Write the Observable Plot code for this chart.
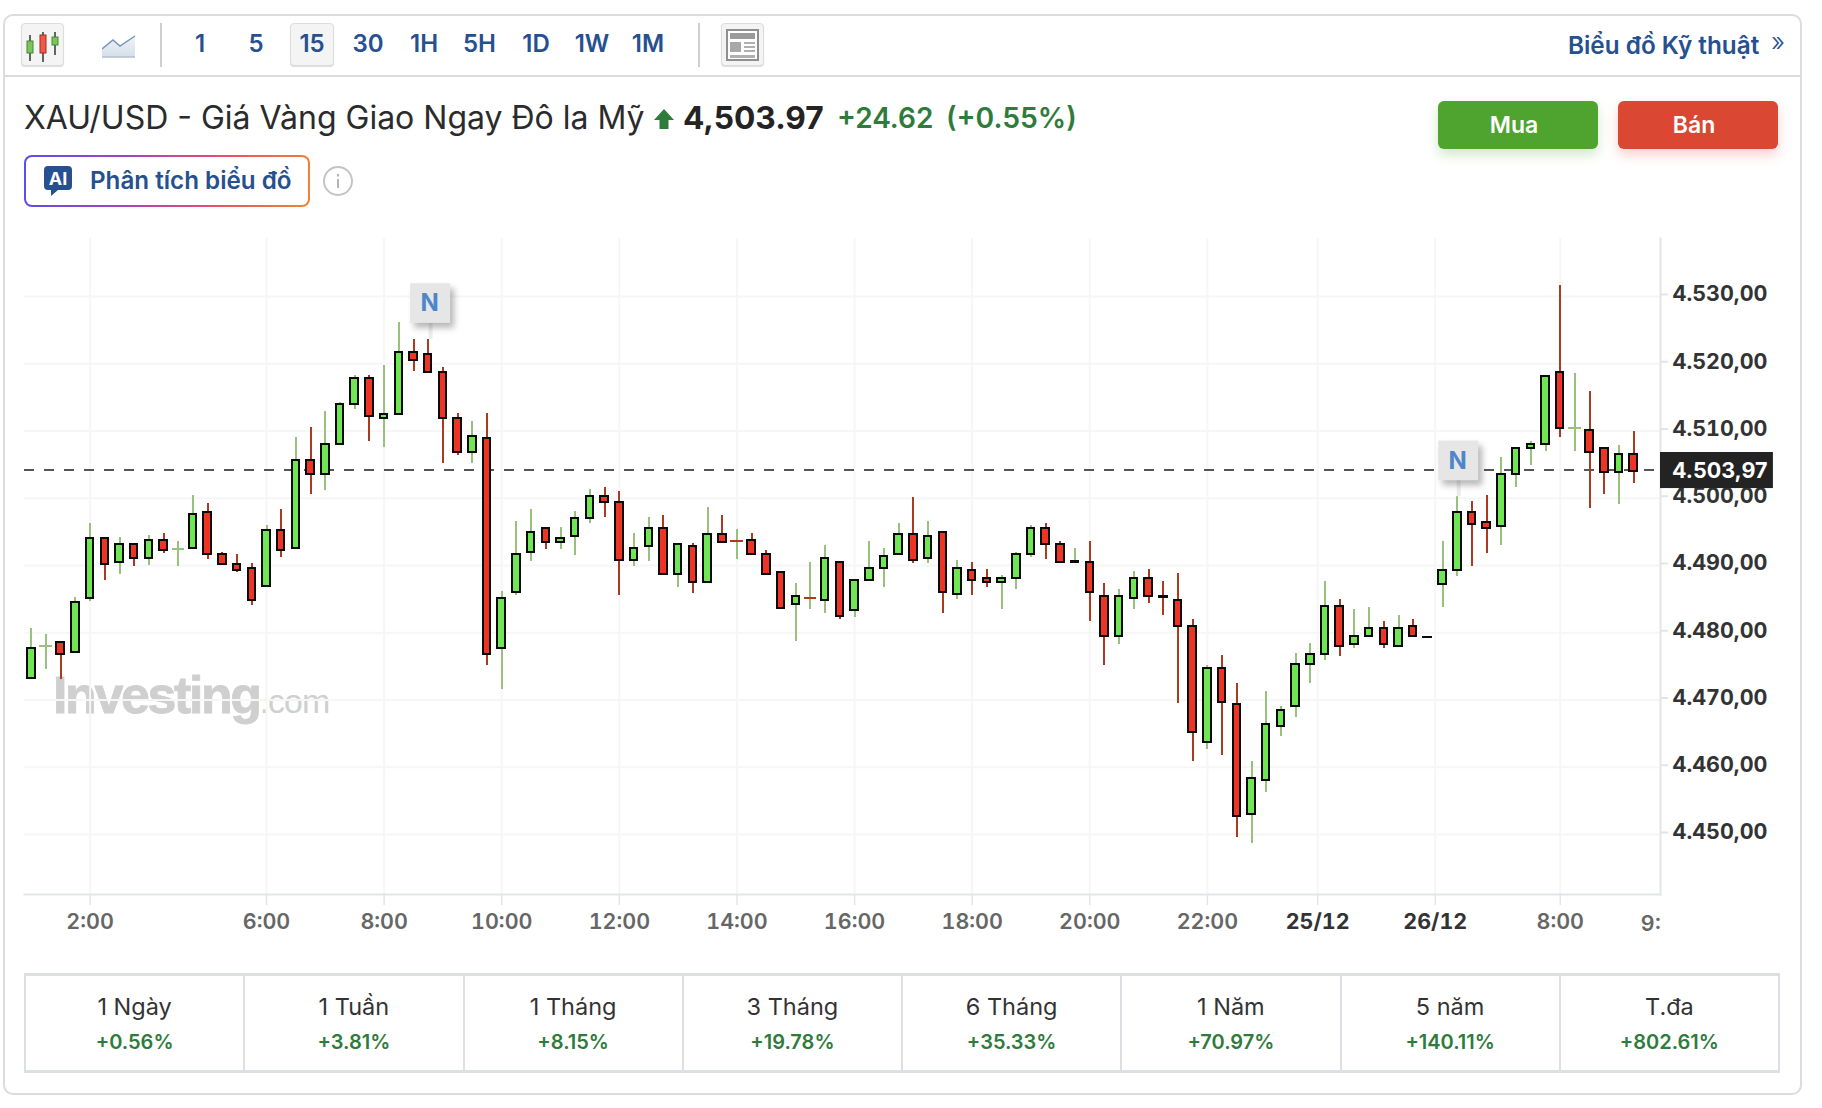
<!DOCTYPE html>
<html lang="vi">
<head>
<meta charset="utf-8">
<title>XAU/USD</title>
<script src="https://cdn.jsdelivr.net/npm/d3@7"></script>
<script src="https://cdn.jsdelivr.net/npm/@observablehq/plot@0.6"></script>
<style>
html,body{margin:0;padding:0;background:#fff;width:1822px;height:1108px;overflow:hidden;font-family:Inter,"Noto Sans",sans-serif;}
.a{position:absolute;white-space:nowrap;}
#card{left:3px;top:14px;width:1795px;height:1077px;border:2px solid #dcdcdc;border-radius:10px;}
#toolline{left:4px;top:75px;width:1797px;height:2px;background:#dcdcdc;}
.sep{width:2px;height:44px;top:23px;background:#cfcfcf;}
.btnbox{top:23px;height:43px;background:#f4f4f4;border:1px solid #dcdcdc;border-radius:4px;box-sizing:border-box;box-shadow:0 1px 1px #ddd;}
.iv{top:30px;height:28px;line-height:28px;font-size:24px;font-weight:600;color:#26508f;transform:translateX(-50%);}
#link{left:1568px;top:30px;line-height:30px;font-size:24.3px;font-weight:600;color:#26508f;}
#chev{left:1771px;top:27px;line-height:30px;font-size:26px;font-weight:300;color:#26508f;}
#title{left:24px;top:98px;line-height:40px;font-size:32px;color:#2b2b2b;}
#price{left:683px;top:98px;line-height:40px;font-size:31.7px;font-weight:700;color:#232323;}
#chg1{left:837px;top:98px;line-height:40px;font-size:28px;font-weight:600;color:#2f7b3c;}
#chg2{left:946px;top:98px;line-height:40px;font-size:28.3px;font-weight:600;color:#2f7b3c;}
.trade{top:101px;width:160px;height:48px;line-height:48px;border-radius:6px;color:#fff;text-align:center;font-size:23px;font-weight:600;box-sizing:border-box;padding-right:8px;}
#mua{left:1438px;background:#4ea42f;box-shadow:0 6px 12px rgba(78,164,47,.25);}
#ban{left:1618px;background:#da4733;box-shadow:0 6px 12px rgba(218,71,51,.25);}
#ai{left:24px;top:155px;width:286px;height:52px;box-sizing:border-box;border:2px solid transparent;border-radius:8px;
background:linear-gradient(#fff,#fff) padding-box,linear-gradient(100deg,#5a4df0 0%,#a044c0 35%,#e94a70 65%,#f08530 100%) border-box;}
#aitext{left:90px;top:166px;line-height:30px;font-size:24.2px;font-weight:600;color:#26508f;}
#wm{left:53px;top:665px;line-height:60px;font-family:"Liberation Sans",Arial,sans-serif;color:#cfcfcf;}
#wm b{font-size:52px;letter-spacing:-2.4px;-webkit-text-stroke:0.8px #cfcfcf;}
#wm span{font-size:34px;letter-spacing:-1px;font-weight:400;margin-left:0;}
#chart{left:0;top:238px;}
#tbl{left:24px;top:973px;width:1756px;height:100px;box-sizing:border-box;border-left:2px solid #dcdfe3;border-top:3px solid #dcdfe3;border-bottom:3px solid #dcdfe3;display:grid;grid-template-columns:repeat(8,219.25px);}
#tbl .c{border-right:2px solid #dcdfe3;text-align:center;position:relative;}
#tbl .p{position:absolute;left:0;right:0;top:16px;line-height:30px;font-size:23.5px;color:#333;}
#tbl .v{position:absolute;left:0;right:0;top:52px;line-height:28px;font-size:20px;font-weight:600;color:#2f7b3c;}
</style>
</head>
<body>
<div id="wm" class="a"><b>Investing</b><span>.com</span></div>
<div id="chart" class="a"></div>
<div id="card" class="a"></div>
<div id="toolline" class="a"></div>
<div class="a btnbox" style="left:21px;width:43px"></div>
<svg class="a" style="left:21px;top:23px" width="43" height="44">
  <g stroke="#333" stroke-width="1.5"><line x1="9" y1="12" x2="9" y2="38"/><line x1="22" y1="9" x2="22" y2="39"/><line x1="34" y1="9" x2="34" y2="32"/></g>
  <rect x="6" y="18" width="6" height="12" fill="#7fc45a" stroke="#3c8a2e"/>
  <rect x="19" y="12" width="6" height="18" fill="#ee5a4a" stroke="#a8281c"/>
  <rect x="31" y="14" width="6" height="8" fill="#7fc45a" stroke="#3c8a2e"/>
</svg>
<svg class="a" style="left:102px;top:34px" width="34" height="24">
  <defs><linearGradient id="ar" x1="0" y1="0" x2="0" y2="1"><stop offset="0" stop-color="#eef3f9"/><stop offset="1" stop-color="#d5dfe9"/></linearGradient></defs>
  <path d="M0 15 L11 6 L18 12 L33 2 L33 23 L0 23Z" fill="url(#ar)"/>
  <path d="M0 15 L11 6 L18 12 L33 2" fill="none" stroke="#7595bb" stroke-width="1.5"/>
  <line x1="0" y1="23" x2="33" y2="23" stroke="#b5bfca" stroke-width="1.5"/>
</svg>
<div class="a sep" style="left:160px"></div>
<div class="a btnbox" style="left:290px;width:44px"></div>
<div id="intervals"></div>
<div class="a sep" style="left:698px"></div>
<div class="a btnbox" style="left:721px;width:43px"></div>
<svg class="a" style="left:721px;top:23px" width="43" height="44">
  <rect x="6" y="7" width="31" height="30" fill="#fff" stroke="#8f8f8f" stroke-width="2"/>
  <rect x="9" y="10" width="25" height="6" fill="#9a9a9a"/>
  <rect x="9" y="19" width="11" height="10" fill="#a8a8a8"/>
  <g fill="#b0b0b0"><rect x="23" y="19" width="11" height="2"/><rect x="23" y="23" width="11" height="2"/><rect x="23" y="27" width="11" height="2"/><rect x="9" y="32" width="25" height="3"/></g>
</svg>
<div id="link" class="a">Biểu đồ Kỹ thuật</div>
<div id="chev" class="a">»</div>
<div id="title" class="a">XAU/USD - Giá Vàng Giao Ngay Đô la Mỹ</div>
<svg class="a" style="left:653px;top:109px" width="22" height="20"><path d="M11 0 L21 11 L15.5 11 L15.5 20 L6.5 20 L6.5 11 L1 11Z" fill="#2f7b3c"/></svg>
<div id="price" class="a">4,503.97</div>
<div id="chg1" class="a">+24.62</div>
<div id="chg2" class="a">(+0.55%)</div>
<div id="mua" class="a trade">Mua</div>
<div id="ban" class="a trade">Bán</div>
<div id="ai" class="a"></div>
<svg class="a" style="left:43px;top:166px" width="30" height="31">
  <path d="M5 0 H25 Q29 0 29 4 V20 Q29 24 25 24 H15 L8 30 V24 H5 Q1 24 1 20 V4 Q1 0 5 0Z" fill="#26508f"/>
  <text x="15" y="18.5" text-anchor="middle" font-family="Inter" font-weight="700" font-size="18" fill="#fff">AI</text>
</svg>
<div id="aitext" class="a">Phân tích biểu đồ</div>
<svg class="a" style="left:322px;top:165px" width="32" height="32">
  <circle cx="16" cy="16" r="14" fill="#fff" stroke="#c4c4c4" stroke-width="2"/>
  <rect x="15" y="14" width="2" height="9" fill="#b5b5b5"/><rect x="15" y="9" width="2" height="2.5" fill="#b5b5b5"/>
</svg>
<div id="tbl" class="a"></div>

<script>
// Candle values
const open  = [4473.2,4478.0,4478.6,4477.1,4485.1,4494.0,4490.4,4493.1,4491.0,4493.7,
4492.5,4492.5,4497.9,4491.6,4490.2,4489.6,4486.9,4495.2,4492.5,4505.6,
4503.5,4508.0,4513.9,4517.8,4511.9,4512.5,4521.7,4521.4,4518.7,4511.9,
4506.8,4508.9,4477.7,4486.0,4491.9,4495.5,4493.4,4494.3,4497.0,4500.3,
4499.4,4490.7,4492.8,4495.5,4488.7,4492.8,4487.5,4494.6,4493.7,4493.7,
4491.6,4489.0,4484.2,4485.1,4484.8,4490.4,4483.3,4487.8,4489.6,4491.6,
4494.6,4491.0,4494.9,4485.7,4489.3,4488.1,4487.5,4488.1,4491.6,4495.5,
4493.1,4490.4,4490.4,4485.4,4479.4,4485.1,4488.1,4485.4,4484.8,4480.9,
4463.7,4474.7,4469.3,4453.0,4458.0,4466.1,4469.0,4475.3,4476.8,4483.9,
4478.3,4479.4,4480.6,4478.0,4480.9,4479.4,4487.2,4489.3,4497.9,4496.4,
4495.8,4503.5,4507.4,4508.0,4518.7,4510.5,4510.1,4507.4,4503.8,4506.5];
const high  = [4480.7,4479.8,4478.6,4485.2,4496.2,4494.0,4494.1,4493.1,4494.4,4494.7,
4493.5,4500.4,4499.2,4492.0,4491.7,4490.3,4495.9,4498.3,4509.0,4510.5,
4512.9,4514.3,4518.2,4518.2,4519.7,4526.2,4523.6,4523.6,4519.4,4512.6,
4511.4,4512.6,4486.1,4496.5,4498.3,4495.5,4495.6,4498.0,4501.3,4501.6,
4501.0,4494.7,4497.1,4497.4,4493.2,4493.2,4498.6,4497.4,4495.3,4494.7,
4492.3,4489.0,4487.3,4490.5,4492.9,4490.4,4487.8,4493.5,4492.6,4496.2,
4500.1,4496.5,4494.9,4490.8,4490.5,4489.4,4488.5,4492.0,4495.9,4496.2,
4493.5,4492.6,4493.5,4487.3,4486.4,4489.1,4489.4,4487.6,4488.8,4481.9,
4475.1,4476.6,4472.4,4460.8,4471.2,4469.1,4476.9,4478.4,4487.6,4484.9,
4483.4,4483.7,4481.6,4482.5,4481.9,4479.4,4493.5,4500.2,4499.5,4500.4,
4506.0,4507.4,4508.4,4518.1,4531.6,4518.5,4515.8,4507.4,4507.8,4509.9];
const low   = [4473.2,4474.6,4473.1,4477.1,4484.7,4487.7,4488.6,4489.8,4490.0,4491.8,
4489.8,4492.5,4490.9,4490.2,4488.9,4484.1,4486.9,4491.2,4492.5,4500.5,
4501.1,4508.0,4513.2,4508.5,4507.6,4512.5,4518.9,4518.7,4505.2,4506.4,
4505.2,4475.2,4471.6,4485.6,4490.6,4492.4,4492.4,4491.5,4496.3,4497.2,
4485.6,4489.8,4490.6,4488.7,4486.8,4485.9,4487.5,4493.4,4490.9,4491.6,
4488.7,4483.6,4478.7,4483.5,4482.9,4482.0,4482.3,4487.8,4486.8,4491.6,
4490.3,4490.3,4482.9,4485.0,4485.6,4486.8,4483.5,4486.5,4491.2,4490.9,
4490.4,4490.4,4481.7,4475.2,4478.2,4483.5,4484.4,4482.6,4469.5,4460.9,
4462.7,4461.8,4449.6,4448.7,4456.2,4464.5,4467.4,4472.5,4475.8,4476.4,
4477.6,4479.4,4477.6,4478.0,4479.4,4479.4,4483.8,4488.3,4489.8,4491.8,
4493.0,4501.6,4504.9,4507.0,4509.1,4507.0,4498.4,4500.5,4499.0,4502.2];
const close = [4477.7,4478.0,4476.8,4484.5,4494.0,4490.2,4493.1,4491.0,4493.7,4492.2,
4492.5,4497.6,4491.6,4490.2,4489.3,4484.8,4495.2,4492.2,4505.6,4503.5,
4508.0,4513.9,4517.8,4512.2,4512.5,4521.7,4520.5,4518.7,4511.9,4506.8,
4509.2,4476.8,4485.1,4491.6,4494.9,4493.4,4494.0,4497.0,4500.3,4499.4,
4490.7,4492.5,4495.5,4488.7,4493.1,4487.5,4494.6,4493.4,4493.7,4491.6,
4488.7,4483.6,4485.4,4485.1,4491.0,4482.4,4487.8,4489.6,4491.3,4494.6,
4490.7,4494.3,4486.0,4489.6,4487.8,4487.5,4488.1,4491.6,4495.5,4493.1,
4490.4,4490.6,4486.0,4479.4,4485.4,4488.1,4485.4,4485.2,4480.9,4465.2,
4474.7,4469.6,4452.7,4458.3,4466.4,4468.4,4475.3,4476.8,4483.9,4478.0,
4479.4,4480.6,4478.3,4480.6,4479.4,4479.4,4489.3,4497.9,4496.1,4495.5,
4503.5,4507.4,4508.0,4518.1,4510.4,4510.5,4506.8,4503.8,4506.5,4504.0];
const greenDoji = [1,10,105];
const redDoji = [48,53];
const flatBar = [95];           // flat bar drawn in black, no wick

const yTicks  = [4450,4460,4470,4480,4490,4500,4510,4520,4530];
const yLabels = ["4.450,00","4.460,00","4.470,00","4.480,00","4.490,00","4.500,00","4.510,00","4.520,00","4.530,00"];
const timeTicks  = [4,16,24,32,40,48,56,64,72,80,104];
const timeLabels = ["2:00","6:00","8:00","10:00","12:00","14:00","16:00","18:00","20:00","22:00","8:00"];
const dateTicks  = [87.5,95.5];
const dateLabels = ["25/12","26/12"];
const lastPrice = 4503.97;
const lastLabel = "4.503,97";
const newsAt = [27.16,97.09];
const newsBase = [4523.6,4500.2];

const periods = ["1 Ngày","1 Tuần","1 Tháng","3 Tháng","6 Tháng","1 Năm","5 năm","T.đa"];
const changes = ["+0.56%","+3.81%","+8.15%","+19.78%","+35.33%","+70.97%","+140.11%","+802.61%"];
const intervals = ["1","5","15","30","1H","5H","1D","1W","1M"];
const intervalX = [200,256,312,368,424,479.5,536,592,648];

// chrome
const ivHost = document.getElementById("intervals");
intervals.forEach((t,k)=>{const d=document.createElement("div");d.className="a iv";d.style.left=intervalX[k]+"px";d.textContent=t;ivHost.appendChild(d);});
const tbl = document.getElementById("tbl");
periods.forEach((p,k)=>{const c=document.createElement("div");c.className="c";
  c.innerHTML=`<div class="p">${p}</div><div class="v">${changes[k]}</div>`;tbl.appendChild(c);});

// chart
const candles = d3.range(open.length).map(i=>({i,o:open[i],h:high[i],l:low[i],c:close[i]}));
const GREEN_WICK="#97c27d", RED_WICK="#ab3a20", GREEN="#71e654", RED="#ee3424", GRID="#f6f6f6", AXIS="#e1e5ea";
const isDoji = d => greenDoji.includes(d.i)||redDoji.includes(d.i);
const isFlat = d => flatBar.includes(d.i);
const bodies = candles.filter(d=>!isDoji(d)&&!isFlat(d));
const wicks = candles.filter(d=>!isFlat(d));
const up = d => d.c>=d.o;
const HALF=0.255;

const fmtTime = new Map(timeTicks.map((t,k)=>[t,timeLabels[k]]));
const fmtDate = new Map(dateTicks.map((t,k)=>[t,dateLabels[k]]));
const fmtY = new Map(yTicks.map((t,k)=>[t,yLabels[k]]));

const plot = Plot.plot({
  width:1822, height:702,
  marginLeft:24, marginRight:162, marginTop:0, marginBottom:46,
  x:{type:"linear", domain:[-0.4626,110.82], range:[24,1660]},
  y:{type:"linear", domain:[4441.08,4538.62], range:[656,0]},
  style:{background:"transparent",fontFamily:"Inter, sans-serif",overflow:"visible"},
  marks:[
    Plot.gridX([...timeTicks,...dateTicks],{stroke:GRID,strokeOpacity:1,strokeWidth:2}),
    Plot.gridY(yTicks,{stroke:GRID,strokeOpacity:1,strokeWidth:2}),
    Plot.ruleY([lastPrice],{dy:-1.5,stroke:"#555",strokeWidth:2,strokeDasharray:"10,10",shapeRendering:"crispEdges"}),
    Plot.frame({anchor:"bottom",stroke:AXIS,strokeWidth:2}),
    Plot.frame({anchor:"right",stroke:AXIS,strokeWidth:2}),
    Plot.axisX(timeTicks,{anchor:"bottom",tickFormat:d=>fmtTime.get(d),tickSize:11,tickPadding:8,fontSize:21.5,fontWeight:600,color:"#666",stroke:AXIS,strokeWidth:1.5,label:null}),
    Plot.axisX(dateTicks,{anchor:"bottom",tickFormat:d=>fmtDate.get(d),tickSize:11,tickPadding:8,fontSize:21.5,fontWeight:700,color:"#333",stroke:AXIS,strokeWidth:1.5,label:null}),
    Plot.text(["9:"],{x:()=>109.47,frameAnchor:"bottom",dy:36,text:d=>d,textAnchor:"start",fontSize:21.5,fontWeight:600,fill:"#666"}),
    Plot.axisY(yTicks,{anchor:"right",tickFormat:d=>fmtY.get(d),tickSize:7,tickPadding:5,dy:-2,fontSize:21.5,fontWeight:700,color:"#333",stroke:AXIS,strokeWidth:2,label:null}),
    // wicks
    Plot.ruleX(wicks,{x:"i",y1:"l",y2:"h",stroke:d=>up(d)?GREEN_WICK:RED_WICK,strokeWidth:2,shapeRendering:"crispEdges"}),
    // dojis
    Plot.ruleY(greenDoji,{y:i=>open[i],x1:i=>i-0.42,x2:i=>i+0.42,stroke:GREEN_WICK,strokeWidth:2,shapeRendering:"crispEdges"}),
    Plot.ruleY(redDoji,{y:i=>open[i],x1:i=>i-0.42,x2:i=>i+0.42,stroke:RED_WICK,strokeWidth:2,shapeRendering:"crispEdges"}),
    Plot.ruleY(flatBar,{y:i=>open[i],x1:i=>i-0.34,x2:i=>i+0.34,stroke:"#0a0a0a",strokeWidth:2,shapeRendering:"crispEdges"}),
    // bodies
    Plot.rect(bodies,{x1:d=>d.i-HALF,x2:d=>d.i+HALF,y1:"o",y2:"c",fill:d=>up(d)?GREEN:RED,stroke:"#0a0a0a",strokeWidth:2,shapeRendering:"crispEdges"}),
    // news flags
    Plot.ruleX(newsAt,{x:d=>d,y1:(d,k)=>newsBase[k],y2:(d,k)=>newsBase[k]+3,stroke:"#ececec",strokeWidth:4}),
    Plot.rect(newsAt,{x1:d=>d-1.36,x2:d=>d+1.36,y1:(d,k)=>newsBase[k]+2.4,y2:(d,k)=>newsBase[k]+8.3,fill:"#e6e6e6",imageFilter:"drop-shadow(4px 5px 3px rgba(0,0,0,.28))"}),
    Plot.text(newsAt,{x:d=>d-0.07,y:(d,k)=>newsBase[k]+5.35,text:()=>"N",fontSize:24,fontWeight:700,fill:"#4f86c8"}),
    // last price tag
    Plot.rect([lastPrice],{x1:()=>110.82,x2:()=>118.5,y1:d=>d-2.68,y2:d=>d+2.68,dy:-1,fill:"#232323"}),
    Plot.text([lastLabel],{x:()=>118.1,y:()=>lastPrice,text:d=>d,textAnchor:"end",fontSize:21.5,fontWeight:700,fill:"#fff"})
  ]
});
document.getElementById("chart").appendChild(plot);
</script>
</body>
</html>
